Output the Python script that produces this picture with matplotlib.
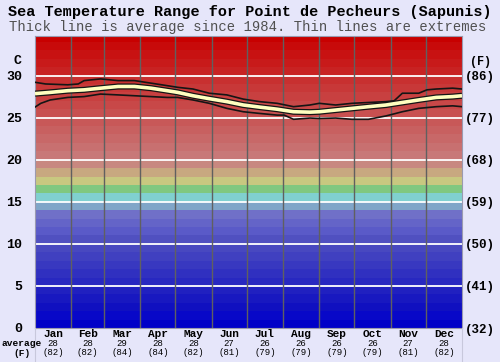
"""Sea temperature range chart for Point de Pecheurs (Sapunis)."""
import matplotlib
matplotlib.use("Agg")
import matplotlib.pyplot as plt
from matplotlib.lines import Line2D

# month boundaries (day of year) and labels
month_starts = [0, 31, 59, 90, 120, 151, 181, 212, 243, 273, 304, 334, 365]
month_names = ["Jan", "Feb", "Mar", "Apr", "May", "Jun",
               "Jul", "Aug", "Sep", "Oct", "Nov", "Dec"]
avg_c = [28, 28, 29, 28, 28, 27, 26, 26, 26, 26, 27, 28]
avg_f = [82, 82, 84, 84, 82, 81, 79, 79, 79, 79, 81, 82]

# average line (day, deg C)
avg_days = [0, 13, 28, 42, 56, 71, 85, 99, 113, 122, 135, 149, 164, 178,
            192, 207, 221, 235, 243, 257, 271, 285, 300, 314, 328, 343, 357, 365]
avg_temp = [27.85, 28.0, 28.2, 28.3, 28.5, 28.7, 28.7, 28.5, 28.2, 28.0, 27.6,
            27.25, 26.9, 26.5, 26.25, 26.0, 25.7, 25.65, 25.7, 25.9, 26.1, 26.3,
            26.5, 26.8, 27.1, 27.4, 27.5, 27.6]

# upper extreme
max_days = [0, 9, 28, 37, 42, 56, 71, 85, 99, 113, 122, 135, 149, 164, 178,
            192, 207, 221, 235, 243, 257, 271, 285, 300, 307, 314, 328, 335,
            343, 357, 365]
max_temp = [29.2, 29.0, 28.9, 29.0, 29.4, 29.6, 29.4, 29.4, 29.1, 28.8, 28.6,
            28.4, 27.9, 27.7, 27.2, 26.9, 26.7, 26.3, 26.5, 26.7, 26.5, 26.7,
            26.8, 26.9, 27.0, 27.9, 27.9, 28.3, 28.4, 28.5, 28.4]

# lower extreme
min_days = [0, 5, 13, 28, 42, 56, 71, 85, 99, 113, 122, 135, 149, 164, 178,
            192, 207, 213, 221, 235, 243, 257, 271, 285, 300, 314, 328, 343,
            357, 365]
min_temp = [26.25, 26.7, 27.1, 27.4, 27.5, 27.8, 27.7, 27.6, 27.5, 27.4, 27.4,
            27.1, 26.7, 26.1, 25.7, 25.5, 25.3, 25.3, 24.8, 24.95, 24.9, 24.95,
            24.8, 24.8, 25.2, 25.7, 26.1, 26.3, 26.4, 26.3]

yticks_c = [0, 5, 10, 15, 20, 25, 30]
yticks_f = ["(32)", "(41)", "(50)", "(59)", "(68)", "(77)", "(86)"]

# one colour band per degree, 0..35 C
band_colors = [
    "#0000c8", "#0808c8", "#1010c0", "#1818c0", "#2020c0",
    "#2828c0", "#3030c0", "#3838c0", "#4040c0", "#4848c0",
    "#5050c0", "#5a5ac8", "#6464c8", "#7070c8", "#80a6c8",
    "#80d0d0", "#80c880", "#c8c880", "#c8a880", "#c88880",
    "#c87878", "#c87070", "#c86868", "#c86060", "#c85858",
    "#c85050", "#c84848", "#c84040", "#c83838", "#c83030",
    "#c82222", "#c81a1a", "#c81212", "#c80a0a", "#c80000",
]

BG = "#e6e6fa"
FONT = "Liberation Mono"

fig = plt.figure(figsize=(5.0, 3.62), dpi=100, facecolor=BG)
ax = fig.add_axes([35 / 500, 1 - 328 / 362, 427 / 500, 292 / 362])
ax.set_xlim(0, 365)
ax.set_ylim(0, 34.7)

for i, c in enumerate(band_colors):
    ax.axhspan(i, i + 1, color=c, lw=0, zorder=0)

for y in yticks_c[1:]:
    ax.axhline(y, color="white", lw=1.3, zorder=1)
for d in month_starts[1:-1]:
    ax.axvline(d, color="#606060", lw=1.0, zorder=1)

ax.plot(max_days, max_temp, color="#151515", lw=1.2, zorder=3)
ax.plot(min_days, min_temp, color="#151515", lw=1.2, zorder=3)
ax.plot(avg_days, avg_temp, color="#151515", lw=4.4, zorder=4,
        solid_capstyle="butt")
ax.plot(avg_days, avg_temp, color="#ffffc0", lw=2.6, zorder=5,
        solid_capstyle="butt")

ax.set_xticks([])
ax.set_yticks(yticks_c)
ax.set_yticklabels([str(v) for v in yticks_c], fontfamily=FONT,
                   fontweight="bold", fontsize=9.5)
ax.tick_params(axis="y", length=0, pad=9)
for s in ax.spines.values():
    s.set_color("#9a9ab0")
    s.set_linewidth(0.8)

ax2 = ax.twinx()
ax2.set_ylim(ax.get_ylim())
ax2.set_yticks(yticks_c)
ax2.set_yticklabels(yticks_f, fontfamily=FONT, fontweight="bold", fontsize=9)
ax2.tick_params(axis="y", length=0, pad=2)
for s in ax2.spines.values():
    s.set_visible(False)

# unit labels
fig.text(17 / 500, 1 - 61 / 362, "C", ha="center", va="center",
         fontfamily=FONT, fontweight="bold", fontsize=9.5)
fig.text(481 / 500, 1 - 62 / 362, "(F)", ha="center", va="center",
         fontfamily=FONT, fontweight="bold", fontsize=8.5)

# month labels and monthly averages
for i, name in enumerate(month_names):
    mid = (month_starts[i] + month_starts[i + 1]) / 2
    ax.text(mid, -0.75, name, ha="center", va="center", fontfamily=FONT,
            fontweight="bold", fontsize=8, clip_on=False)
    ax.text(mid, -1.8, str(avg_c[i]), ha="center", va="center",
            fontfamily=FONT, fontsize=6.5, clip_on=False)
    ax.text(mid, -2.95, f"({avg_f[i]})", ha="center", va="center",
            fontfamily=FONT, fontsize=6.5, clip_on=False)

fig.text(2 / 500, 1 - 343 / 362, "average", ha="left", va="center",
         fontfamily=FONT, fontweight="bold", fontsize=6.8)
fig.text(22 / 500, 1 - 354 / 362, "(F)", ha="center", va="center",
         fontfamily=FONT, fontweight="bold", fontsize=6.8)

fig.add_artist(Line2D([35 / 500, 35 / 500], [0, 1 - 328 / 362],
                      color="#c8c8dc", lw=0.8))
fig.add_artist(Line2D([462 / 500, 462 / 500], [0, 1 - 328 / 362],
                      color="#c8c8dc", lw=0.8))

fig.text(250 / 500, 1 - 12 / 362,
         "Sea Temperature Range for Point de Pecheurs (Sapunis)",
         ha="center", va="center", fontfamily=FONT, fontweight="bold",
         fontsize=10.9)
fig.text(248 / 500, 1 - 26.5 / 362,
         "Thick line is average since 1984. Thin lines are extremes",
         ha="center", va="center", fontfamily=FONT, fontsize=10,
         color="#505050")

fig.savefig("out.png", dpi=100, facecolor=BG)
